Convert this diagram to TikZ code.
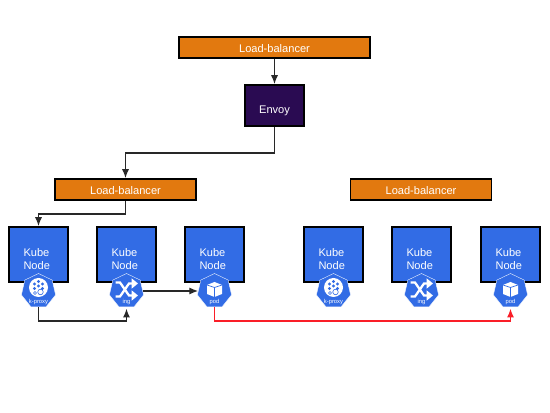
\documentclass[tikz,border=0pt]{standalone}
\usepackage{xcolor}
\usepackage{fontspec}
\setmainfont{Liberation Sans}
\usetikzlibrary{shapes.geometric, arrows.meta}
\definecolor{lborange}{RGB}{226,121,15}
\definecolor{envoypurple}{RGB}{42,11,82}
\definecolor{kubeblue}{RGB}{50,108,229}
\definecolor{linegray}{RGB}{40,40,40}
\definecolor{trafficred}{RGB}{250,30,40}
\tikzset{
  block/.style={rectangle, draw=black, line width=1.1pt, text=white, inner sep=0pt,
    font=\fontsize{6.3}{7.2}\selectfont},
  lbblock/.style={block, fill=lborange, minimum height=0.42cm, text height=5.6pt},
  envoyblock/.style={block, fill=envoypurple, minimum width=1.18cm, minimum height=0.82cm,
    text height=10.5pt},
  kubeblock/.style={block, fill=kubeblue, minimum width=1.18cm, minimum height=1.10cm,
    text width=0.6cm, align=left},
  kubeicon/.style={regular polygon, regular polygon sides=7, fill=kubeblue, draw=white,
    line width=0.2pt, minimum size=0.70cm, inner sep=0pt},
  iconlabel/.style={text=white, inner sep=0pt, font=\fontsize{3.3}{4}\selectfont},
  arrow/.style={-{Latex[length=5pt, width=4pt]}, line width=0.7pt, color=linegray},
  redarrow/.style={-{Latex[length=5pt, width=4pt]}, line width=0.75pt, color=trafficred},
  pics/proxyglyph/.style={code={
    \fill[white] (0,0) circle (0.19);
    \foreach \dotx/\doty in {0/0.12, -0.08/0.07, 0.08/0.07, -0.08/-0.02, 0/0.03, 0.08/-0.02}
      \fill[kubeblue] (\dotx,\doty) circle (0.032);
    \draw[kubeblue, line width=0.35pt] (0.04,-0.09) circle (0.055);
    \draw[kubeblue, line width=0.35pt] (-0.07,-0.11) circle (0.03);
  }},
  pics/ingglyph/.style={code={
    \draw[white, line width=1.3pt, -{Triangle[length=3.6pt, width=5.6pt]}]
      (-0.22,0.14) -- (-0.13,0.14) -- (0.05,-0.12) -- (0.23,-0.12);
    \draw[white, line width=1.3pt, -{Triangle[length=3.6pt, width=5.6pt]}]
      (-0.22,-0.14) -- (-0.13,-0.14) -- (0.05,0.12) -- (0.23,0.12);
  }},
  pics/podglyph/.style={code={
    \fill[white] (0,0.15) -- (0.15,0.09) -- (0.15,-0.09) -- (0,-0.15) -- (-0.15,-0.09) -- (-0.15,0.09) -- cycle;
    \draw[kubeblue, line width=0.4pt] (-0.15,0.09) -- (0,0.04) -- (0.15,0.09) (0,0.04) -- (0,-0.15);
  }},
}

\begin{document}
\begin{tikzpicture}

  \useasboundingbox[fill=white] (0,0) rectangle (11,8.26);

  %% Load-balancers
  \node[lbblock, minimum width=3.82cm] (toplb) at (5.49, 7.31) {Load-balancer};
  \node[lbblock, minimum width=2.82cm] (leftlb) at (2.51, 4.47) {Load-balancer};
  \node[lbblock, minimum width=2.82cm] (rightlb) at (8.42, 4.47) {Load-balancer};

  %% Envoy
  \node[envoyblock] (envoy) at (5.49, 6.15) {Envoy};

  %% Kube nodes
  \node[kubeblock] (kubea) at (0.77, 3.17) {\rule{0pt}{9.6pt}Kube\\Node};
  \node[kubeblock] (kubeb) at (2.53, 3.17) {\rule{0pt}{9.6pt}Kube\\Node};
  \node[kubeblock] (kubec) at (4.29, 3.17) {\rule{0pt}{9.6pt}Kube\\Node};
  \node[kubeblock] (kubed) at (6.67, 3.17) {\rule{0pt}{9.6pt}Kube\\Node};
  \node[kubeblock] (kubee) at (8.43, 3.17) {\rule{0pt}{9.6pt}Kube\\Node};
  \node[kubeblock] (kubef) at (10.21, 3.17) {\rule{0pt}{9.6pt}Kube\\Node};

  %% Icons
  \node[kubeicon] (proxya) at (0.77, 2.44) {};
  \pic at (0.77, 2.51) {proxyglyph};
  \node[iconlabel] (proxyatext) at (0.77, 2.22) {k-proxy};
  \node[kubeicon] (inga) at (2.53, 2.44) {};
  \pic at (2.53, 2.47) {ingglyph};
  \node[iconlabel] (ingatext) at (2.53, 2.22) {ing};
  \node[kubeicon] (poda) at (4.29, 2.44) {};
  \pic at (4.29, 2.47) {podglyph};
  \node[iconlabel] (podatext) at (4.29, 2.22) {pod};
  \node[kubeicon] (proxyb) at (6.67, 2.44) {};
  \pic at (6.67, 2.51) {proxyglyph};
  \node[iconlabel] (proxybtext) at (6.67, 2.22) {k-proxy};
  \node[kubeicon] (ingb) at (8.43, 2.44) {};
  \pic at (8.43, 2.47) {ingglyph};
  \node[iconlabel] (ingbtext) at (8.43, 2.22) {ing};
  \node[kubeicon] (podb) at (10.21, 2.44) {};
  \pic at (10.21, 2.47) {podglyph};
  \node[iconlabel] (podbtext) at (10.21, 2.22) {pod};

  %% Arrows
  \draw[arrow] (toplb.south) -- (envoy.north);
  \draw[arrow] (envoy.south) -- ++(0,-0.52) -| (leftlb.north);
  \draw[arrow] (leftlb.south) -- ++(0,-0.26) -| (kubea.north);
  \draw[arrow] (proxya.south) -- ++(0,-0.28) -| ([yshift=-1pt]inga.south);
  \draw[arrow] (inga.east) -- (poda.west);
  \draw[redarrow] (poda.south) -- ++(0,-0.28) -| ([yshift=-1pt]podb.south);

\end{tikzpicture}
\end{document}
